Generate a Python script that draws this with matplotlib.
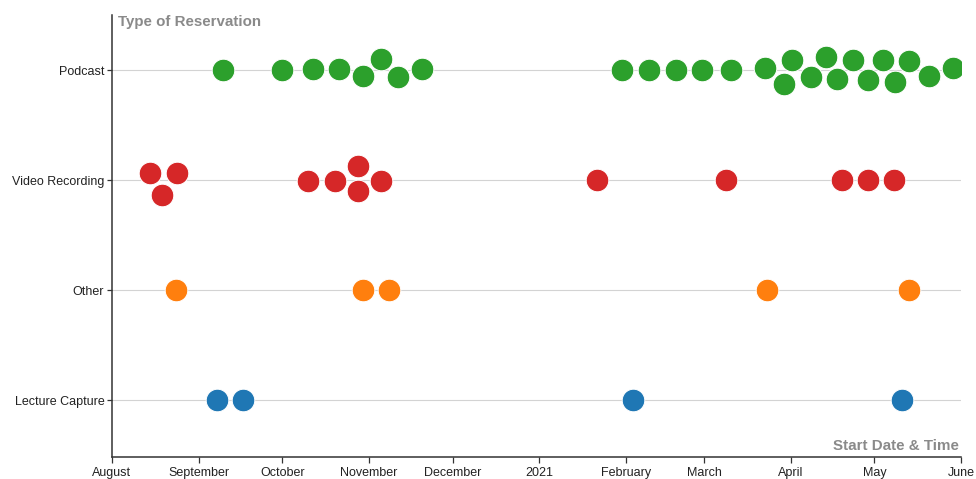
import matplotlib
matplotlib.use("Agg")
import matplotlib.pyplot as plt
import matplotlib.dates as mdates
import numpy as np
import pandas as pd

plt.rcParams['font.family'] = ['Liberation Sans', 'DejaVu Sans']

# Rows from bottom to top
categories = ["Lecture Capture", "Other", "Video Recording", "Podcast"]
colors = ["#1f77b4", "#ff7f0e", "#d62728", "#2ca02c"]

# Start date & time of each reservation
podcast = [
    "2020-09-09 18:00", "2020-09-30 21:00", "2020-10-11 23:00", "2020-10-21 07:00",
    "2020-10-29 21:00", "2020-11-05 08:00", "2020-11-11 10:00", "2020-11-20 00:00",
    "2021-01-30 15:00", "2021-02-09 07:00", "2021-02-18 23:00", "2021-02-28 06:00",
    "2021-03-10 15:00", "2021-03-22 20:00", "2021-03-29 15:00", "2021-04-01 12:00",
    "2021-04-08 07:00", "2021-04-13 16:00", "2021-04-17 14:00", "2021-04-23 08:00",
    "2021-04-28 17:00", "2021-05-04 02:00", "2021-05-08 09:00", "2021-05-13 09:00",
    "2021-05-20 13:00", "2021-05-29 03:00",
]
video_recording = [
    "2020-08-14 15:00", "2020-08-18 22:00", "2020-08-24 07:00", "2020-10-10 04:00",
    "2020-10-19 20:00", "2020-10-28 02:00", "2020-10-28 02:00", "2020-11-05 08:00",
    "2021-01-21 16:00", "2021-03-08 20:00", "2021-04-19 09:00", "2021-04-28 17:00",
    "2021-05-08 00:00",
]
other = [
    "2020-08-23 22:00", "2020-10-29 21:00", "2020-11-08 04:00",
    "2021-03-23 13:00", "2021-05-13 09:00",
]
lecture_capture = [
    "2020-09-07 14:00", "2020-09-16 22:00", "2021-02-03 13:00", "2021-05-10 21:00",
]

month_ticks = ["2020-08-01", "2020-09-01", "2020-10-01", "2020-11-01", "2020-12-01",
               "2021-01-01", "2021-02-01", "2021-03-01", "2021-04-01", "2021-05-01",
               "2021-06-01"]
month_labels = ["August", "September", "October", "November", "December", "2021",
                "February", "March", "April", "May", "June"]


def swarm_offsets(xpix, d):
    """Greedy beeswarm: vertical pixel offsets (down positive), groups centred."""
    n = len(xpix)
    ys = np.zeros(n)
    placed = []
    for i in np.argsort(xpix, kind="stable"):
        x = xpix[i]
        near = [(px, py) for px, py in placed if abs(px - x) < d]
        cands = [0.0]
        for px, py in near:
            h = np.sqrt(d ** 2 - (px - x) ** 2)
            cands += [py + h, py - h]
        cands.sort(key=lambda c: (round(abs(c), 6), -c))
        for c in cands:
            if all((px - x) ** 2 + (py - c) ** 2 >= d ** 2 - 1e-6 for px, py in near):
                ys[i] = c
                break
        placed.append((x, ys[i]))

    # centre each cluster of (nearly) touching circles on its row
    parent = list(range(n))

    def find(a):
        while parent[a] != a:
            a = parent[a]
        return a

    for a in range(n):
        for b in range(a + 1, n):
            if (xpix[a] - xpix[b]) ** 2 + (ys[a] - ys[b]) ** 2 < (d + 2) ** 2:
                parent[find(a)] = find(b)
    roots = np.array([find(a) for a in range(n)])
    for r in set(roots):
        ys[roots == r] -= ys[roots == r].mean()
    return ys


fig = plt.figure(figsize=(9.76, 4.79), dpi=100)
ax = fig.add_axes([112 / 976, 22 / 479, 849 / 976, 442 / 479])

ax.set_xlim(pd.Timestamp("2020-08-01"), pd.Timestamp("2021-06-01"))
ax.set_ylim(-0.518, 3.5)

series = [lecture_capture, other, video_recording, podcast]
unit_px = ax.transData.transform([(0, 1)])[0, 1] - ax.transData.transform([(0, 0)])[0, 1]

for row, (dates, color) in enumerate(zip(series, colors)):
    x = mdates.date2num(pd.to_datetime(dates))
    xpix = ax.transData.transform(np.column_stack([x, np.zeros(len(x))]))[:, 0]
    offs = swarm_offsets(xpix, 25.0)
    ax.scatter(x, row - offs / unit_px, s=265, color=color,
               edgecolors="#ffffff", linewidths=0.7, zorder=3)

# Row guide lines
for row in range(len(categories)):
    ax.axhline(row, color="#d3d3d3", lw=0.8, zorder=1)

ax.set_yticks(range(len(categories)))
ax.set_yticklabels(categories)
ax.set_xticks(mdates.date2num(pd.to_datetime(month_ticks)))
ax.set_xticklabels(month_labels)
ax.tick_params(axis="both", labelsize=9, colors="#333333", labelcolor="#222222",
               width=0.9)
ax.tick_params(axis="x", length=4.5, pad=3)
ax.tick_params(axis="y", length=3.5, pad=2)

for spine in ["top", "right"]:
    ax.spines[spine].set_visible(False)
for spine in ["bottom", "left"]:
    ax.spines[spine].set_color("#333333")
    ax.spines[spine].set_linewidth(1.1)

ax.text(0.007, 0.999, "Type of Reservation", transform=ax.transAxes, ha="left", va="top",
        fontsize=10.9, fontweight="bold", color="#8a8a8a")
ax.text(0.998, 0.016, "Start Date & Time", transform=ax.transAxes, ha="right",
        va="baseline", fontsize=10.9, fontweight="bold", color="#8a8a8a")

fig.savefig("out.png", dpi=100)
